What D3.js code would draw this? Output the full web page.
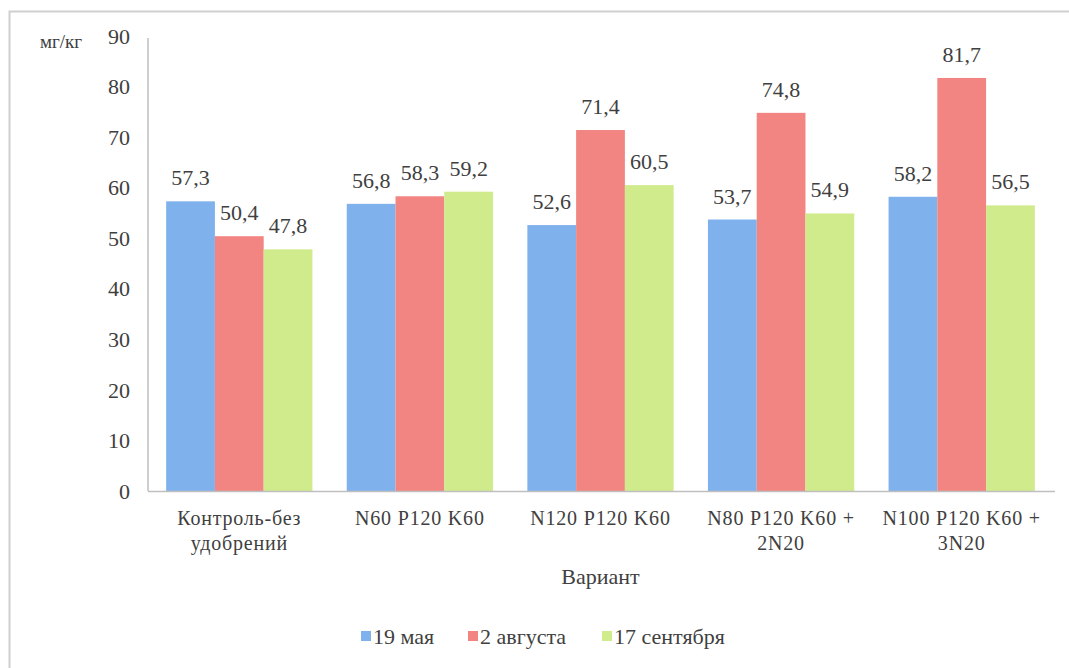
<!DOCTYPE html>
<html>
<head>
<meta charset="utf-8">
<script src="https://cdn.jsdelivr.net/npm/d3@7"></script>
</head>
<body style="margin:0">
<svg id="chart" width="1069" height="668"></svg>
<script>
// data
var categories = [["Контроль-без", "удобрений"], ["N60 P120 K60"], ["N120 P120 K60"], ["N80 P120 K60 +", "2N20"], ["N100 P120 K60 +", "3N20"]];
var seriesNames = ["19 мая", "2 августа", "17 сентября"];
var may19 = [57.3, 56.8, 52.6, 53.7, 58.2];
var aug2 = [50.4, 58.3, 71.4, 74.8, 81.7];
var sep17 = [47.8, 59.2, 60.5, 54.9, 56.5];
var yTicks = [0, 10, 20, 30, 40, 50, 60, 70, 80, 90];
var colors = ["#7fb1ec", "#f28582", "#cfeb8b"];

var series = [may19, aug2, sep17];
var svg = d3.select("#chart");

// serif text helper
function label(sel, size) {
    return sel.append("text")
        .attr("font-family", "Times New Roman")
        .attr("font-size", size)
        .attr("fill", "#404040");
}

// outer frame
svg.append("rect")
    .attr("x", 9.5).attr("y", 11.5)
    .attr("width", 1080).attr("height", 700)
    .attr("fill", "none").attr("stroke", "#d0d0d0").attr("stroke-width", 2);

var plotLeft = 149, plotRight = 1052, plotTop = 36, plotBottom = 491;

var x0 = d3.scaleBand()
    .domain(d3.range(categories.length))
    .range([plotLeft, plotRight])
    .paddingInner(0.19)
    .paddingOuter(0.095);
var x1 = d3.scaleBand()
    .domain(d3.range(seriesNames.length))
    .range([0, x0.bandwidth()]);
var y = d3.scaleLinear().domain([0, 90]).range([plotBottom, plotTop]);

// y tick labels
var yg = svg.append("g");
yTicks.forEach(function(t) {
    label(yg, 22)
        .attr("x", 130).attr("y", y(t))
        .attr("dy", "0.35em")
        .attr("text-anchor", "end")
        .text(t);
});

label(svg, 19)
    .attr("x", 40).attr("y", 48)
    .text("мг/кг");

// bars
var groups = svg.append("g").selectAll("g").data(categories).enter().append("g")
    .attr("transform", function(d, i) { return "translate(" + x0(i) + ",0)"; });

groups.selectAll("rect")
    .data(function(d, i) { return series.map(function(s, j) { return {s: j, v: s[i]}; }); })
    .enter().append("rect")
    .attr("x", function(d) { return x1(d.s); })
    .attr("width", x1.bandwidth())
    .attr("y", function(d) { return y(d.v); })
    .attr("height", function(d) { return plotBottom - y(d.v); })
    .attr("fill", function(d) { return colors[d.s]; });

groups.each(function(d, i) {
    var g = d3.select(this);
    series.forEach(function(s, j) {
        label(g, 22)
            .attr("x", x1(j) + x1.bandwidth() / 2)
            .attr("y", y(s[i]) - 16)
            .attr("text-anchor", "middle")
            .text(s[i].toFixed(1).replace(".", ","));
    });
});

// axes lines
svg.append("line")
    .attr("x1", plotLeft - 1).attr("x2", plotLeft - 1)
    .attr("y1", 38).attr("y2", plotBottom)
    .attr("stroke", "#bfbfbf").attr("stroke-width", 1.5);
svg.append("line")
    .attr("x1", plotLeft - 1).attr("x2", plotRight + 3)
    .attr("y1", plotBottom + 0.5).attr("y2", plotBottom + 0.5)
    .attr("stroke", "#bfbfbf").attr("stroke-width", 1.5);

// category labels
var cg = svg.append("g");
categories.forEach(function(lines, i) {
    var cx = x0(i) + x0.bandwidth() / 2;
    var t = label(cg, 20)
        .attr("x", cx).attr("y", 525)
        .attr("text-anchor", "middle")
        .attr("letter-spacing", "0.8");
    lines.forEach(function(line, k) {
        t.append("tspan")
            .attr("x", cx)
            .attr("dy", k === 0 ? 0 : 25)
            .text(line);
    });
});

label(svg, 22)
    .attr("x", x0(2) + x0.bandwidth() / 2).attr("y", 584)
    .attr("text-anchor", "middle")
    .text("Вариант");

// legend
var legendX = [361, 468, 602];
var lg = svg.append("g");
seriesNames.forEach(function(name, i) {
    lg.append("rect")
        .attr("x", legendX[i]).attr("y", 631).attr("width", 10).attr("height", 10)
        .attr("fill", colors[i]);
    label(lg, 22)
        .attr("x", legendX[i] + 12).attr("y", 636).attr("dy", "0.35em")
        .text(name);
});
</script>
</body>
</html>
